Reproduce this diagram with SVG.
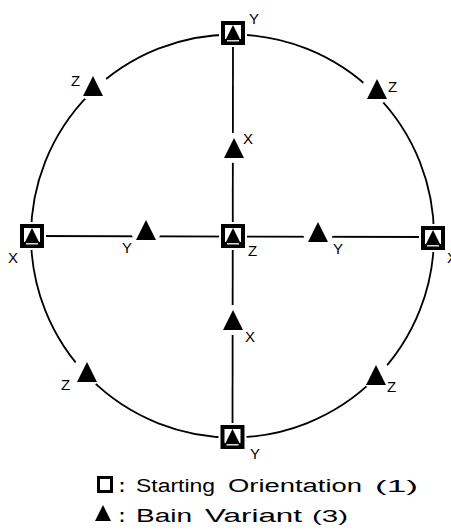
<svg xmlns="http://www.w3.org/2000/svg" width="451" height="530" viewBox="0 0 451 530">
<style>
.ln{stroke:#000;stroke-width:1.8;fill:none}
.lbl{font-family:"Liberation Sans",Arial,sans-serif;font-size:15px;fill:#000}
.leg{font-family:"Liberation Sans",Arial,sans-serif;font-size:18px;fill:#000}
.par{font-family:"Liberation Sans",Arial,sans-serif;font-size:16px;fill:#000}
</style>
<defs>
<g id="sq">
<rect x="-14" y="-14" width="28" height="28" fill="#fff"/>
<rect x="-12" y="-12" width="24" height="24" fill="#000"/>
<rect x="-8" y="-8" width="16" height="14" fill="#fff"/>
<polygon points="0,-8 -7,6 7,6" fill="#000"/>
<line x1="-6" y1="7.8" x2="6" y2="7.8" stroke="#fff" stroke-width="1.3"/>
</g>
<g id="tri">
<circle cx="0" cy="-10" r="15" fill="#fff"/>
<polygon points="0,-20 -10,0 10,0" fill="#000"/>
</g>
</defs>
<g id="connectors">
<circle class="ln" cx="232.5" cy="236" r="201.5" stroke-width="2.2"/>
<line class="ln" x1="233" y1="33" x2="232.5" y2="437"/>
<line class="ln" x1="32" y1="236" x2="433" y2="237"/>
</g>
<g id="sq-top"><use href="#sq" x="233" y="33"/><text class="lbl" x="249" y="24">Y</text></g>
<g id="sq-bottom"><use href="#sq" x="232.5" y="437"/><text class="lbl" x="250" y="459">Y</text></g>
<g id="sq-left"><use href="#sq" x="32" y="236"/><text class="lbl" x="8" y="263">X</text></g>
<g id="sq-right"><use href="#sq" x="433" y="238"/><text class="lbl" x="447" y="263">X</text></g>
<g id="sq-center"><use href="#sq" x="233" y="236"/><text class="lbl" x="248" y="256">Z</text></g>
<g id="tri-upper"><use href="#tri" x="234" y="158"/><text class="lbl" x="243" y="144">X</text></g>
<g id="tri-lower"><use href="#tri" x="233" y="330"/><text class="lbl" x="245" y="342">X</text></g>
<g id="tri-left"><use href="#tri" x="146" y="240"/><text class="lbl" x="122" y="253">Y</text></g>
<g id="tri-right"><use href="#tri" x="318" y="242"/><text class="lbl" x="333" y="254">Y</text></g>
<g id="tri-tl"><use href="#tri" x="93" y="96"/><text class="lbl" x="71" y="86">Z</text></g>
<g id="tri-tr"><use href="#tri" x="377" y="99"/><text class="lbl" x="388" y="92">Z</text></g>
<g id="tri-bl"><use href="#tri" x="87" y="382"/><text class="lbl" x="61" y="390">Z</text></g>
<g id="tri-br"><use href="#tri" x="376" y="385"/><text class="lbl" x="387" y="392">Z</text></g>
<g id="legend">
<rect x="98.5" y="477.5" width="13" height="14" fill="none" stroke="#000" stroke-width="3"/>
<text class="leg" x="119" y="492" font-weight="bold">:</text>
<text class="leg" x="136" y="492" textLength="79" lengthAdjust="spacingAndGlyphs">Starting</text>
<text class="leg" x="228" y="492" textLength="134" lengthAdjust="spacingAndGlyphs">Orientation</text>
<text class="par" x="375" y="492" textLength="43" lengthAdjust="spacingAndGlyphs">(1)</text>
<polygon points="103,505 95,521 111,521" fill="#000"/>
<text class="leg" x="119" y="522" font-weight="bold">:</text>
<text class="leg" x="136" y="522" textLength="56" lengthAdjust="spacingAndGlyphs">Bain</text>
<text class="leg" x="205" y="522" textLength="97" lengthAdjust="spacingAndGlyphs">Variant</text>
<text class="par" x="312" y="522" textLength="36" lengthAdjust="spacingAndGlyphs">(3)</text>
</g>
</svg>
